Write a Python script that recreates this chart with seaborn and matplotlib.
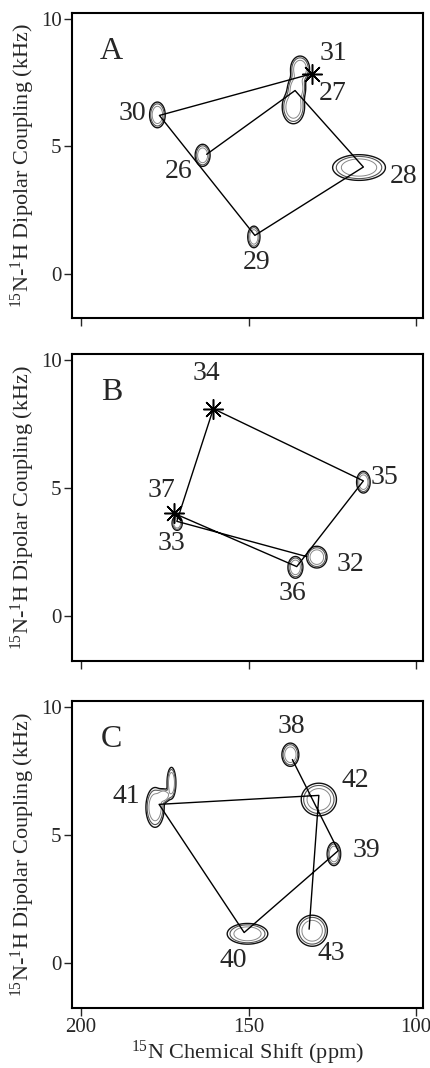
"""
Three PISA-wheel panels: 15N chemical shift vs 15N-1H dipolar coupling,
contoured peaks joined residue by residue.
"""
import numpy as np
import matplotlib
matplotlib.use("Agg")
import matplotlib.pyplot as plt
import seaborn as sns

# ─── data: connectivity vertices (ppm, kHz) ───────────────────────────────────
A_RES = [26, 27, 28, 29, 30, 31]
A_PPM = [162.5, 136.1, 115.7, 148.1, 176.6, 131.1]
A_KHZ = [4.69, 7.20, 4.19, 1.50, 6.22, 7.86]
A_STAR = [31]

B_RES = [32, 33, 34, 35, 36, 37]
B_PPM = [132.6, 171.4, 160.5, 115.7, 135.6, 172.2]
B_KHZ = [2.33, 3.71, 8.11, 5.29, 1.94, 4.02]
B_STAR = [34, 37]

C_RES = [38, 39, 40, 41, 42, 43]
C_PPM = [136.9, 123.2, 151.3, 176.7, 129.0, 131.9]
C_KHZ = [7.96, 4.40, 1.20, 6.21, 6.56, 1.33]
C_STAR = []

# ─── data: observed peaks (centre ppm, centre kHz, half-width ppm, half-width kHz)
A_PK_PPM = [177.2, 163.7, 134.6, 135.6, 136.6, 117.0, 148.4]
A_PK_KHZ = [6.24, 4.65, 8.05, 7.30, 6.55, 4.17, 1.44]
A_PK_WPPM = [2.3, 2.2, 2.8, 2.6, 3.3, 7.8, 1.8]
A_PK_WKHZ = [0.50, 0.43, 0.50, 0.50, 0.65, 0.50, 0.42]

B_PK_PPM = [171.3, 115.7, 129.6, 136.0]
B_PK_KHZ = [3.64, 5.24, 2.31, 1.91]
B_PK_WPPM = [1.5, 2.0, 3.0, 2.2]
B_PK_WKHZ = [0.28, 0.42, 0.42, 0.42]

C_PK_PPM = [137.5, 177.9, 173.0, 175.3, 129.0, 124.5, 150.3, 131.0]
C_PK_KHZ = [8.15, 6.09, 7.05, 6.55, 6.40, 4.27, 1.15, 1.27]
C_PK_WPPM = [2.5, 2.7, 1.3, 1.8, 5.2, 2.0, 6.0, 4.5]
C_PK_WKHZ = [0.45, 0.77, 0.60, 0.25, 0.63, 0.45, 0.40, 0.60]

X_TICKS = [200, 150, 100]
Y_TICKS = [0, 5, 10]

# ─── layout (label offsets in points, axes boxes in pixels) ───────────────────
LABEL_OFFSETS = {
    26: (-20.4, -12.7), 27: (27.4, -2.4), 28: (28.6, -6.7),
    29: (1.2, -19.2), 30: (-19.7, 1.2), 31: (15.3, 14.4),
    32: (31.2, -6.0), 33: (-3.6, -16.1), 34: (-4.8, 25.2),
    35: (15.4, 2.4), 36: (-2.9, -19.7), 37: (-9.4, 16.8),
    38: (-0.7, 24.0), 39: (20.2, 0.0), 40: (-7.7, -19.9),
    41: (-23.8, 5.3), 42: (26.4, 10.8), 43: (16.1, -17.6),
}
W_PX, H_PX = 430, 1068
LEFT_PX, RIGHT_PX = 72, 423
BOXES = [(13, 318), (354, 661), (701, 1008)]   # (top, bottom) per panel
XLIM = (202.7, 97.9)
YLIM = (-1.75, 10.25)

sns.set_style("ticks")
plt.rcParams["font.family"] = ["Liberation Serif", "DejaVu Serif"]
plt.rcParams["mathtext.fontset"] = "custom"
plt.rcParams["mathtext.rm"] = "Liberation Serif"
plt.rcParams["mathtext.it"] = "Liberation Serif:italic"


def peak_field(xx, yy, ppm, khz, wppm, wkhz):
    """Sum of 2-D gaussians; outer contour sits near the read half-width."""
    z = np.zeros_like(xx)
    for px, py, wx, wy in zip(ppm, khz, wppm, wkhz):
        z += np.exp(-0.5 * ((xx - px) / (wx / 2)) ** 2 - 0.5 * ((yy - py) / (wy / 2)) ** 2)
    return z


def draw_panel(ax, letter, res, ppm, khz, stars, pk, show_x):
    xx, yy = np.meshgrid(np.linspace(XLIM[1], XLIM[0], 500),
                         np.linspace(YLIM[0], YLIM[1], 400))
    zz = peak_field(xx, yy, *pk)
    ax.contour(xx, yy, zz, levels=[0.13, 0.22, 0.4],
               colors=["#111111", "#555555", "#888888"],
               linewidths=[1.0, 0.8, 0.7])

    sns.lineplot(x=ppm, y=khz, sort=False, estimator=None, color="black",
                 linewidth=1.0, ax=ax)
    sx = [p for r, p in zip(res, ppm) if r in stars]
    sy = [k for r, k in zip(res, khz) if r in stars]
    if sx:
        sns.scatterplot(x=sx, y=sy, marker=(8, 2, 0), s=200, color="black",
                        edgecolor="black", linewidth=1.1, ax=ax, zorder=5)

    for r, p, k in zip(res, ppm, khz):
        ax.annotate(str(r), (p, k), xytext=LABEL_OFFSETS[r],
                    textcoords="offset points", ha="center", va="center",
                    fontsize=20)

    ax.text(0.113, 0.873, letter, transform=ax.transAxes, ha="center",
            va="center", fontsize=23)

    ax.set_xlim(*XLIM)
    ax.set_ylim(*YLIM)
    ax.set_xticks(X_TICKS)
    ax.set_yticks(Y_TICKS)
    ax.tick_params(direction="out", length=5.5, width=1.0, labelsize=15, pad=2)
    if not show_x:
        ax.set_xticklabels([])
    else:
        ax.set_xlabel(r"$^{15}$N Chemical Shift (ppm)", fontsize=16, labelpad=1)
    ax.set_ylabel(r"$^{15}$N-$^{1}$H Dipolar Coupling (kHz)", fontsize=16)
    ax.yaxis.set_label_coords(-0.10, 0.5)
    for sp in ax.spines.values():
        sp.set_visible(True)
        sp.set_linewidth(1.5)
        sp.set_color("black")


def main():
    fig = plt.figure(figsize=(W_PX / 100, H_PX / 100), dpi=100)
    panels = [
        ("A", A_RES, A_PPM, A_KHZ, A_STAR, (A_PK_PPM, A_PK_KHZ, A_PK_WPPM, A_PK_WKHZ)),
        ("B", B_RES, B_PPM, B_KHZ, B_STAR, (B_PK_PPM, B_PK_KHZ, B_PK_WPPM, B_PK_WKHZ)),
        ("C", C_RES, C_PPM, C_KHZ, C_STAR, (C_PK_PPM, C_PK_KHZ, C_PK_WPPM, C_PK_WKHZ)),
    ]
    for i, ((top, bot), (letter, res, ppm, khz, stars, pk)) in enumerate(zip(BOXES, panels)):
        rect = [LEFT_PX / W_PX, 1 - bot / H_PX,
                (RIGHT_PX - LEFT_PX) / W_PX, (bot - top) / H_PX]
        ax = fig.add_axes(rect)
        draw_panel(ax, letter, res, ppm, khz, stars, pk, show_x=(i == 2))

    fig.savefig("out.png", dpi=100, facecolor="white")
    plt.close(fig)


if __name__ == "__main__":
    main()
